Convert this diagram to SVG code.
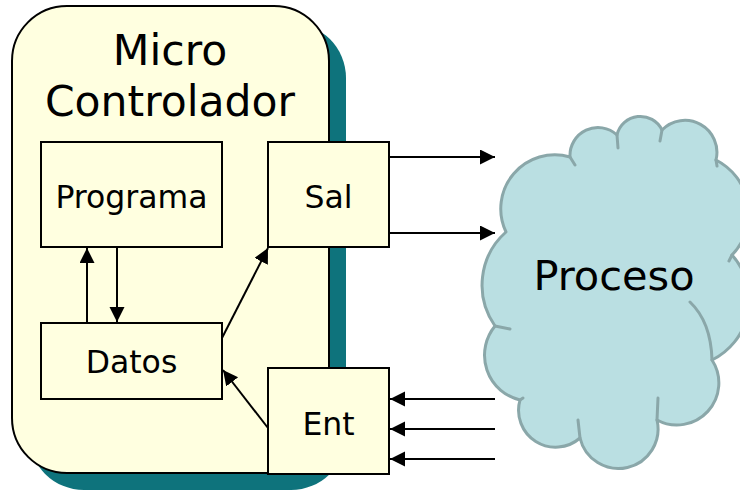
<svg xmlns="http://www.w3.org/2000/svg" width="740" height="491" viewBox="0 0 740 491">
  <defs>
    <style>
      .box { fill: #FFFFE0; stroke: #000; stroke-width: 2; }
      .lbl { font-family: "DejaVu Sans", Verdana, sans-serif; fill: #000; text-anchor: middle; }
      .wire { stroke: #000; stroke-width: 2; fill: none; marker-end: url(#head); }
      .cloud { fill: #BADFE2; stroke: #8AA7A9; stroke-width: 3; stroke-linejoin: round; }
      .tail { fill: none; stroke: #8AA7A9; stroke-width: 3; stroke-linecap: round; }
    </style>
    <marker id="head" markerUnits="userSpaceOnUse" markerWidth="16" markerHeight="16" refX="15" refY="7.5" orient="auto">
      <path d="M0,0 L15,7.5 L0,15 z" fill="#000"/>
    </marker>
  </defs>

  <!-- microcontroller body with drop shadow -->
  <g id="micro">
    <rect x="29" y="23" width="317" height="467" rx="55" fill="#0E737C"/>
    <rect x="12" y="6" width="317" height="467" rx="55" class="box"/>
    <text class="lbl" x="170" y="65" font-size="42.5">Micro</text>
    <text class="lbl" x="170" y="116" font-size="42.5">Controlador</text>
  </g>

  <!-- process cloud -->
  <g id="proceso">
    <path class="cloud" d="M506,232
      A54,54 0 0 1 570,157
      A28,28 0 0 1 617,135
      A24,24 0 0 1 662,130
      A32,32 0 0 1 716,160
      A60,60 0 0 1 732,255
      A67,67 0 0 1 712,360
      A42,42 0 0 1 657,420
      A39,39 0 0 1 580,438
      A37,37 0 0 1 520,400
      A46,46 0 0 1 495,326
      A71,71 0 0 1 506,232 z"/>
    <path class="tail" d="M570,157 l5,8 M617,135 l1,13 M662,130 l-2,11 M716,160 l1,6 M732,255 l-3,6
      M712,360 q-1,-38 -22,-58 M657,420 l1,-22 M580,438 l-2,-18 M520,400 l3,-2 M495,326 l15,3"/>
    <text class="lbl" x="614" y="290" font-size="41.5">Proceso</text>
  </g>

  <g id="programa">
    <rect x="41" y="142" width="181" height="105" class="box"/>
    <text class="lbl" x="131.5" y="208" font-size="31.5">Programa</text>
  </g>
  <g id="sal">
    <rect x="268" y="142" width="121" height="105" class="box"/>
    <text class="lbl" x="328.5" y="208" font-size="31.5">Sal</text>
  </g>
  <g id="datos">
    <rect x="41" y="323" width="181" height="76" class="box"/>
    <text class="lbl" x="131.5" y="373" font-size="31.5">Datos</text>
  </g>
  <g id="ent">
    <rect x="268" y="368" width="121" height="106" class="box"/>
    <text class="lbl" x="328.5" y="435" font-size="31.5">Ent</text>
  </g>

  <!-- connectors -->
  <g id="connectors">
    <line class="wire" x1="87" y1="323" x2="87" y2="248"/>
    <line class="wire" x1="117" y1="248" x2="117" y2="322"/>
    <line class="wire" x1="222" y1="338" x2="268" y2="248"/>
    <line class="wire" x1="268" y1="428" x2="223" y2="370"/>
    <line class="wire" x1="389" y1="157" x2="495" y2="157"/>
    <line class="wire" x1="389" y1="233" x2="495" y2="233"/>
    <line class="wire" x1="495" y1="399" x2="390" y2="399"/>
    <line class="wire" x1="495" y1="429" x2="390" y2="429"/>
    <line class="wire" x1="495" y1="459" x2="390" y2="459"/>
  </g>
</svg>
